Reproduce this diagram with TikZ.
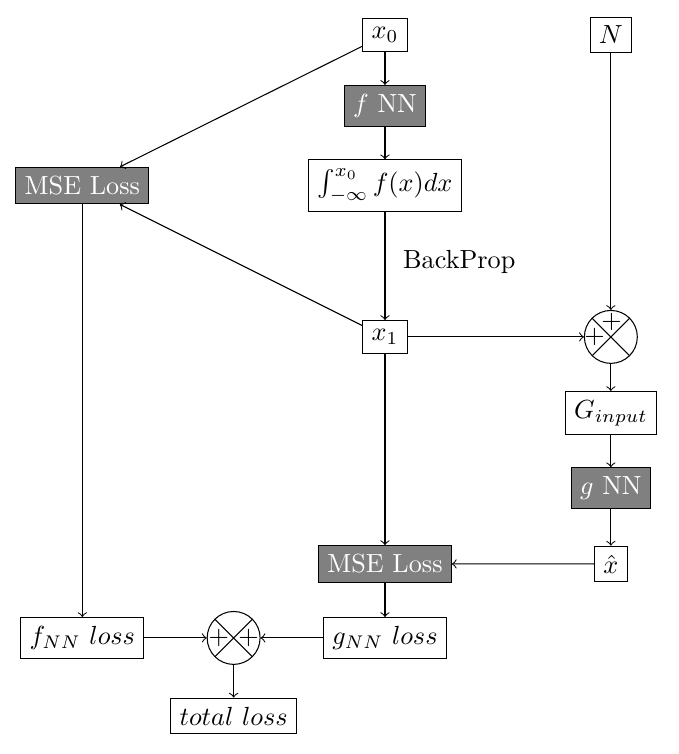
\documentclass[tikz,border=0pt]{standalone}
\usepackage{amsmath,amssymb}
\usetikzlibrary{positioning}

\begin{document}
\begin{tikzpicture}[
      node distance=1cm and 1cm, on grid,
      box/.style={rectangle, draw},
      nnbox/.style={rectangle, draw, fill=gray, text=white},
      sum/.style={circle, draw, minimum size=0.71cm, inner sep=0pt,
                  path picture={\draw (path picture bounding box.north west) -- (path picture bounding box.south east)
                                      (path picture bounding box.north east) -- (path picture bounding box.south west);}},
      plus/.style={inner sep=0pt},
      arr/.style={->},
      ]
    \useasboundingbox (0,0) rectangle (9.108,-10.114);
    \node[box] (x0) at (5.164,-0.469) {$x_0$};
    \node[nnbox, below=0.95cm of x0] (fnn) {$f$ NN};
    \node[box, below=1.07cm of fnn] (integ) {$\int_{-\infty}^{x_0} f(x)dx$};
    \node[nnbox, left=4.06cm of integ] (mse1) {MSE Loss};
    \node[box, below=2.03cm of integ] (x1) {$x_1$};
    \node[box, right=3.03cm of x0] (N) {$N$};
    \node[sum, right=3.03cm of x1] (sum1) {};
    \node[plus] (s1top) at ([xshift=0.01cm, yshift=0.2cm]sum1.center) {$+$};
    \node[plus] (s1left) at ([xshift=-0.22cm]sum1.center) {$+$};
    \node[box, below=1.02cm of sum1] (ginput) {$G_{input}$};
    \node[nnbox, below=1.006cm of ginput] (gnn) {$g$ NN};
    \node[box, below=1.02cm of gnn] (xhat) {$\hat{x}$};
    \node[nnbox, below=3.045cm of x1] (mse2) {MSE Loss};
    \node[box, below=0.993cm of mse2] (gloss) {$g_{NN}\ loss$};
    \node[box, left=4.06cm of gloss] (floss) {$f_{NN}\ loss$};
    \node[sum, right=2.03cm of floss] (sum2) {};
    \node[plus] (s2left) at ([xshift=-0.2cm]sum2.center) {$+$};
    \node[plus] (s2right) at ([xshift=0.2cm]sum2.center) {$+$};
    \node[box, below=1.046cm of sum2] (total) {$total\ loss$};

    \draw[arr] (x0) -- (fnn);
    \draw[arr] (fnn) -- (integ);
    \draw[arr] (integ) -- node[pos=0.46, right=0.12cm]{BackProp} (x1);
    \draw[arr] (x0) -- (mse1);
    \draw[arr] (x1) -- (mse1);
    \draw[arr] (x1) -- (sum1);
    \draw[arr] (N) -- (sum1);
    \draw[arr] (sum1) -- (ginput);
    \draw[arr] (ginput) -- (gnn);
    \draw[arr] (gnn) -- (xhat);
    \draw[arr] (xhat) -- (mse2);
    \draw[arr] (x1) -- (mse2);
    \draw[arr] (mse2) -- (gloss);
    \draw[arr] (mse1) -- (floss);
    \draw[arr] (floss) -- (sum2);
    \draw[arr] (gloss) -- (sum2);
    \draw[arr] (sum2) -- (total);
  \end{tikzpicture}
\end{document}
